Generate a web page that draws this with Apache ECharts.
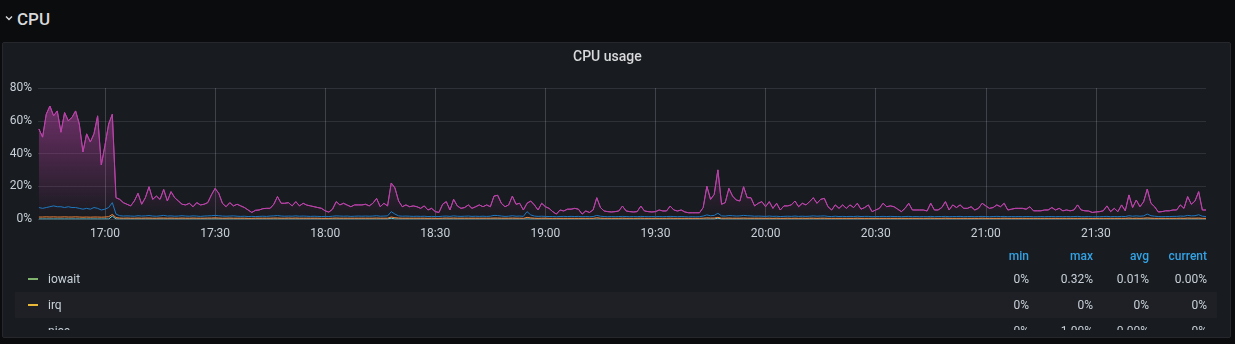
<!DOCTYPE html>
<html>
<head>
<meta charset="utf-8">
<script src="https://cdn.jsdelivr.net/npm/echarts@6.0.0/dist/echarts.min.js"></script>
<style>
  html, body { margin:0; padding:0; width:1235px; height:344px; overflow:hidden; background:#0b0c0e; font-family: Roboto, "Noto Sans", sans-serif; }
  #rowhdr { position:absolute; left:0; top:0; width:300px; height:40px; }
  #rowhdr svg { position:absolute; left:5px; top:15px; }
  #rowhdr span { position:absolute; left:17px; top:9px; font-size:17px; line-height:20px; font-weight:500; color:#d8d9da; }
  #panel { position:absolute; left:2px; top:42px; width:1227px; height:294px; background:#181b1f; border:1px solid #25272c; border-radius:2px; }
  #chart { position:absolute; left:0; top:0; width:1235px; height:250px; }
  #legend { position:absolute; left:15px; top:240px; width:1202px; height:90px; overflow:hidden; font-size:12px; color:#c7d0d9; }
  .lrow { position:absolute; left:0; width:1202px; height:26px; line-height:27px; white-space:nowrap; }
  .lrow.hdr { line-height:26px; }
  .lrow.alt { background:#1e2025; }
  .sw { position:absolute; left:13px; top:12px; width:10px; height:2px; }
  .name { position:absolute; left:33px; top:0; }
  .v { position:absolute; top:0; text-align:right; }
  .hdr .v { color:#33a2e5; font-weight:500; }
</style>
</head>
<body>
<div id="rowhdr">
  <svg width="9" height="7" viewBox="0 0 9 7"><polyline points="1,1.5 4,4.5 7,1.5" fill="none" stroke="#d8d9da" stroke-width="1.4"/></svg>
  <span>CPU</span>
</div>
<div id="panel"></div>
<div id="chart"></div>
<div id="legend"></div>
<script>
// ---------- DATA ----------
// samples every minute starting 16:42
const sampleStart = [16, 42];
const sampleStepMinutes = 1;
const axisStart = [16, 41, 45];
const axisEnd = [22, 0, 0];
const xTickLabels = ['17:00', '17:30', '18:00', '18:30', '19:00', '19:30', '20:00', '20:30', '21:00', '21:30'];

const userPct = [
  55, 50, 64, 69, 63, 66, 53, 65, 60, 62,
  66, 58, 41, 52, 47, 52, 63, 33, 45, 58,
  64, 13, 12, 10, 9, 8, 11, 15.7, 9, 13,
  19.7, 12, 14, 12, 18, 11, 16.7, 13, 11, 9,
  8.6, 9.6, 7.5, 10, 8.6, 9, 10, 14.7, 18.7, 15.7,
  9.6, 7.5, 10, 8, 9, 8, 7, 5.5, 4, 5.3,
  5.5, 6.3, 6.5, 6.5, 9, 13.7, 9.6, 9.6, 10, 8,
  10.6, 8, 9.6, 8.5, 8, 7.5, 7, 6.5, 5, 4.2,
  6, 10.6, 8.6, 9.6, 8.5, 7.5, 8.6, 8.6, 8.6, 9,
  8, 9.6, 12.6, 7.5, 9.6, 8, 22, 19, 11, 7.5,
  8.6, 7.5, 8, 7.5, 6.5, 8, 5.5, 6.5, 4.5, 4,
  9, 10.6, 5.5, 12, 8, 6.5, 7, 8.6, 6.5, 7.5,
  8.6, 7.5, 8.6, 7.5, 14, 14.5, 9.6, 7.5, 8.6, 14,
  9, 9.6, 5.5, 9.6, 11, 8.6, 5.5, 9.6, 7.5, 6.5,
  4.5, 3, 5.5, 4.9, 6, 6, 6.5, 6, 3, 4.9,
  4, 5.5, 13, 7, 4.9, 4.5, 4.3, 4.5, 4.9, 7.9,
  4.9, 4.5, 4.3, 4.5, 7.9, 4.9, 4.5, 4.3, 4.5, 5.5,
  4.9, 4.9, 7.9, 5.5, 4.9, 5.5, 4.3, 3.8, 3.8, 3.8,
  3.8, 7, 20, 12, 15, 30, 9, 10, 18.7, 14,
  11.6, 11, 19.7, 13, 13, 8, 9.6, 10.6, 7.5, 10.6,
  6.5, 9.6, 5.5, 8, 8, 8.6, 11, 7.5, 9.6, 8.6,
  10.6, 13, 9.6, 12, 12.6, 7.5, 5.5, 8.6, 6.5, 8.6,
  6.5, 8.6, 7, 9.6, 6, 7, 8.6, 4.5, 5.5, 6.5,
  9.6, 7.5, 8, 7.5, 6, 4.5, 6.5, 9.6, 5.5, 5.5,
  5.5, 5.5, 4.9, 9.6, 5.5, 5.5, 7, 10.6, 5.5, 8.6,
  7, 8.6, 6.5, 6.5, 7.5, 5.5, 6.5, 9.6, 8, 6.5,
  7, 8.6, 7.5, 9.6, 5.5, 6, 6.5, 6.5, 6.5, 6,
  7.5, 5, 5, 5, 5.5, 5.5, 7, 5.5, 6.5, 5,
  5.5, 5, 5.5, 8.6, 5.5, 5, 4.9, 4, 4.3, 4.5,
  5, 8, 4.5, 6.5, 4.5, 8.6, 5, 14.7, 7, 11.6,
  7.5, 10.5, 18.3, 9.6, 7.5, 4.3, 4.5, 5, 5, 5.5,
  5.5, 8.6, 6.5, 13.7, 9, 11, 16.7, 5.5, 5.5
];

const systemPct = [
  7, 6.5, 7, 7.5, 8, 7.5, 7.5, 7, 7.5, 7,
  7, 6.5, 6, 6.5, 6, 7, 6.5, 5.5, 6, 7,
  10, 3, 2, 1.8, 1.9, 1.8, 1.7, 2, 1.8, 1.9,
  2.1, 1.8, 1.7, 1.9, 2.2, 1.8, 1.9, 1.7, 1.8, 2,
  1.8, 1.7, 1.9, 1.8, 1.6, 1.8, 1.9, 2, 2.2, 2,
  1.8, 1.7, 1.8, 1.9, 1.7, 1.6, 1.7, 1.5, 1.6, 1.5,
  1.6, 1.7, 1.6, 1.8, 1.9, 2.1, 1.8, 1.7, 1.8, 1.7,
  1.9, 1.7, 1.8, 1.7, 1.6, 1.7, 1.6, 1.5, 1.6, 1.5,
  1.7, 1.9, 1.8, 1.7, 1.8, 1.6, 1.7, 1.8, 1.7, 1.8,
  1.7, 1.8, 2, 1.7, 1.8, 1.9, 4.5, 3, 1.9, 1.7,
  1.8, 1.7, 1.6, 1.7, 1.6, 1.7, 1.5, 1.6, 1.5, 1.5,
  1.7, 1.8, 1.6, 1.9, 1.7, 1.6, 1.7, 1.8, 1.6, 1.7,
  1.6, 1.7, 1.6, 1.7, 2.2, 2.1, 1.8, 1.6, 1.7, 2,
  1.7, 1.8, 1.6, 4.5, 2.5, 1.8, 1.6, 1.7, 1.6, 1.5,
  1.5, 1.4, 1.5, 1.6, 1.5, 1.6, 1.5, 1.6, 1.4, 1.5,
  1.4, 1.5, 2.2, 1.7, 1.5, 1.4, 1.5, 1.4, 1.5, 1.6,
  1.5, 1.4, 1.5, 1.4, 1.6, 1.5, 1.4, 1.5, 1.4, 1.5,
  1.4, 1.5, 1.6, 1.5, 1.4, 1.5, 1.4, 1.3, 1.4, 1.3,
  1.4, 1.8, 2.5, 2, 2.2, 3.5, 1.9, 1.8, 2.1, 2,
  1.8, 1.9, 2.2, 2, 1.9, 1.7, 1.8, 1.7, 1.6, 1.8,
  1.6, 1.7, 1.5, 1.6, 1.7, 1.6, 1.8, 1.6, 1.7, 1.6,
  1.7, 1.9, 1.7, 1.8, 1.9, 1.6, 1.5, 1.7, 1.5, 1.6,
  1.5, 1.6, 1.5, 1.7, 1.5, 1.6, 1.6, 1.4, 1.5, 1.5,
  1.6, 1.5, 1.6, 1.5, 1.5, 1.4, 1.5, 1.6, 1.4, 1.5,
  1.4, 1.5, 1.4, 1.6, 1.4, 1.5, 1.5, 1.6, 1.4, 1.5,
  1.5, 1.6, 1.4, 1.5, 1.5, 1.4, 1.5, 1.6, 1.5, 1.4,
  1.5, 1.6, 1.5, 1.6, 1.4, 1.5, 1.4, 1.5, 1.4, 1.5,
  1.5, 1.4, 1.4, 1.5, 1.4, 1.5, 1.5, 1.4, 1.5, 1.4,
  1.5, 1.4, 1.5, 1.6, 1.4, 1.4, 1.5, 1.3, 1.4, 1.4,
  1.5, 1.6, 1.4, 1.5, 1.4, 1.6, 1.5, 2, 1.7, 1.9,
  1.7, 1.9, 3, 2, 1.7, 1.5, 1.4, 1.5, 1.5, 1.6,
  1.6, 1.8, 1.7, 2.2, 1.9, 2, 2.6, 1.7, 1.5
];

const softirqPct = [
  1.2, 1.2, 1.3, 1.2, 1.3, 1.2, 1.2, 1.3, 1.2, 1.2,
  1.3, 1.2, 1.1, 1.2, 1.1, 1.2, 1.2, 1.1, 1.2, 1.4,
  2.8, 0.9, 0.6, 0.5, 0.6, 0.5, 0.5, 0.6, 0.5, 0.6,
  0.6, 0.5, 0.5, 0.6, 0.6, 0.5, 0.6, 0.5, 0.5, 0.6,
  0.5, 0.5, 0.6, 0.5, 0.5, 0.5, 0.6, 0.6, 0.7, 0.6,
  0.5, 0.5, 0.6, 0.5, 0.5, 0.5, 0.5, 0.4, 0.4, 0.5,
  0.5, 0.5, 0.5, 0.5, 0.6, 0.6, 0.5, 0.5, 0.6, 0.5,
  0.6, 0.5, 0.5, 0.5, 0.5, 0.5, 0.5, 0.4, 0.4, 0.4,
  0.5, 0.6, 0.5, 0.5, 0.5, 0.5, 0.5, 0.5, 0.5, 0.5,
  0.5, 0.5, 0.6, 0.5, 0.5, 0.5, 1.2, 0.8, 0.6, 0.5,
  0.5, 0.5, 0.5, 0.5, 0.5, 0.5, 0.4, 0.5, 0.4, 0.4,
  0.5, 0.6, 0.5, 0.6, 0.5, 0.5, 0.5, 0.5, 0.5, 0.5,
  0.5, 0.5, 0.5, 0.5, 0.6, 0.6, 0.5, 0.5, 0.5, 0.6,
  0.5, 0.5, 0.4, 1, 0.7, 0.5, 0.4, 0.5, 0.5, 0.4,
  0.4, 0.4, 0.4, 0.4, 0.4, 0.4, 0.4, 0.4, 0.4, 0.4,
  0.4, 0.4, 0.8, 0.5, 0.4, 0.4, 0.4, 0.4, 0.4, 0.5,
  0.4, 0.4, 0.4, 0.4, 0.5, 0.4, 0.4, 0.4, 0.4, 0.4,
  0.4, 0.4, 0.5, 0.4, 0.4, 0.4, 0.4, 0.4, 0.4, 0.4,
  0.4, 0.5, 0.7, 0.6, 0.6, 1, 0.5, 0.5, 0.6, 0.5,
  0.5, 0.5, 0.6, 0.5, 0.5, 0.5, 0.5, 0.5, 0.4, 0.5,
  0.4, 0.5, 0.4, 0.4, 0.5, 0.4, 0.5, 0.4, 0.5, 0.4,
  0.5, 0.5, 0.4, 0.5, 0.5, 0.4, 0.4, 0.4, 0.4, 0.4,
  0.4, 0.4, 0.4, 0.5, 0.4, 0.4, 0.4, 0.4, 0.4, 0.4,
  0.4, 0.4, 0.4, 0.4, 0.4, 0.4, 0.4, 0.4, 0.4, 0.4,
  0.4, 0.4, 0.4, 0.5, 0.4, 0.4, 0.4, 0.5, 0.4, 0.4,
  0.4, 0.4, 0.4, 0.4, 0.4, 0.4, 0.4, 0.5, 0.4, 0.4,
  0.4, 0.4, 0.4, 0.5, 0.4, 0.4, 0.4, 0.4, 0.4, 0.4,
  0.4, 0.4, 0.4, 0.4, 0.4, 0.4, 0.4, 0.4, 0.4, 0.4,
  0.4, 0.4, 0.4, 0.4, 0.4, 0.4, 0.4, 0.3, 0.4, 0.4,
  0.4, 0.4, 0.4, 0.4, 0.4, 0.4, 0.4, 0.6, 0.4, 0.5,
  0.4, 0.5, 0.7, 0.5, 0.4, 0.4, 0.4, 0.4, 0.4, 0.4,
  0.4, 0.5, 0.4, 0.6, 0.5, 0.5, 0.6, 0.4, 0.4
];

const nicePct = [
  0, 0, 0, 0, 0, 0, 0, 0, 0, 0, 0, 0, 0, 0, 0, 0, 0, 0, 0, 0,
  1.8, 0, 0, 0, 0, 0, 0, 0, 0, 0, 0, 0, 0, 0, 0, 0, 0, 0, 0, 0,
  0, 0, 0, 0, 0, 0, 0, 0, 0, 0, 0, 0, 0, 0, 0, 0, 0, 0, 0, 0,
  0, 0, 0, 0, 0, 0, 0, 0, 0, 0, 0, 0, 0, 0, 0, 0, 0, 0, 0, 0,
  0, 0, 0, 0, 0, 0, 0, 0, 0, 0, 0, 0, 0, 0, 0, 0, 0.5, 0, 0, 0,
  0, 0, 0, 0, 0, 0, 0, 0, 0, 0, 0, 0, 0, 0, 0, 0, 0, 0, 0, 0,
  0, 0, 0, 0, 0, 0, 0, 0, 0, 0, 0, 0, 0, 0, 0, 0, 0, 0, 0, 0,
  0, 0, 0, 0, 0, 0, 0, 0, 0, 0, 0, 0, 0, 0, 0, 0, 0, 0, 0, 0,
  0, 0, 0, 0, 0, 0, 0, 0, 0, 0, 0, 0, 0, 0, 0, 0, 0, 0, 0, 0,
  0, 0, 0, 0, 0, 0.5, 0, 0, 0, 0, 0, 0, 0, 0, 0, 0, 0, 0, 0, 0,
  0, 0, 0, 0, 0, 0, 0, 0, 0, 0, 0, 0, 0, 0, 0, 0, 0, 0, 0, 0,
  0, 0, 0, 0, 0, 0, 0, 0, 0, 0, 0, 0, 0, 0, 0, 0, 0, 0, 0, 0,
  0, 0, 0, 0, 0, 0, 0, 0, 0, 0, 0, 0, 0, 0, 0, 0, 0, 0, 0, 0,
  0, 0, 0, 0, 0, 0, 0, 0, 0, 0, 0, 0, 0, 0, 0, 0, 0, 0, 0, 0,
  0, 0, 0, 0, 0, 0, 0, 0, 0, 0, 0, 0, 0, 0, 0, 0, 0, 0, 0, 0,
  0, 0, 0, 0, 0, 0, 0, 0, 0, 0, 0, 0, 0, 0, 0, 0, 0, 0, 0
];

const yTicks = [0, 20, 40, 60, 80];

const legendNames   = ['iowait', 'irq', 'nice'];
const legendMin     = ['0%', '0%', '0%'];
const legendMax     = ['0.32%', '0%', '1.00%'];
const legendAvg     = ['0.01%', '0%', '0.00%'];
const legendCurrent = ['0.00%', '0%', '0%'];
const legendHeaders = ['min', 'max', 'avg', 'current'];

// ---------- STYLE ----------
const C = {
  iowait: '#7EB26D', irq: '#EAB839', nice: '#6ED0E0', softirq: '#EF843C',
  system: '#1F78C1', user: '#BA43A9'
};
const legendSwatch = [C.iowait, C.irq, C.nice];
const colRight = [188, 124, 68, 10];

// ---------- BUILD ----------
const Y = 2021, M = 5, D = 14;
const base = new Date(Y, M, D, sampleStart[0], sampleStart[1], 0).getTime();
const stepMs = sampleStepMinutes * 60000;
const pairs = arr => arr.map((v, i) => [base + i * stepMs, v]);
const xMin = new Date(Y, M, D, axisStart[0], axisStart[1], axisStart[2]).getTime();
const xMax = new Date(Y, M, D, axisEnd[0], axisEnd[1], axisEnd[2]).getTime();
const tickTimes = xTickLabels.map(s => { const p = s.split(':'); return new Date(Y, M, D, +p[0], +p[1], 0).getTime(); });
const pad = n => (n < 10 ? '0' : '') + n;
const fmt = v => { const d = new Date(v); return pad(d.getHours()) + ':' + pad(d.getMinutes()); };

const chart = echarts.init(document.getElementById('chart'), null, { renderer: 'canvas' });
const lineSeries = (name, data, color, extra) => Object.assign({
  name, type: 'line', data: pairs(data), showSymbol: false, symbol: 'none',
  lineStyle: { width: 1, color }, itemStyle: { color }, z: 2, silent: true
}, extra || {});

chart.setOption({
  animation: false,
  backgroundColor: 'transparent',
  textStyle: { fontFamily: 'Roboto' },
  title: {
    text: 'CPU usage', left: 573, top: 50, padding: 0,
    textStyle: { color: '#d8d9da', fontSize: 14, fontWeight: 500, fontFamily: 'Roboto' }
  },
  grid: { left: 38, top: 88, width: 1168, height: 131 },
  xAxis: {
    type: 'value', min: xMin, max: xMax, scale: true,
    axisLine: { show: false },
    axisTick: { show: false, customValues: tickTimes },
    axisLabel: {
      customValues: tickTimes,
      color: '#c7d0d9', fontSize: 12, margin: 9, fontFamily: 'Roboto',
      formatter: fmt
    },
    splitLine: { show: true, lineStyle: { color: 'rgba(204,204,220,0.22)', width: 1 } }
  },
  yAxis: {
    type: 'value', min: yTicks[0], max: yTicks[yTicks.length - 1], interval: yTicks[1] - yTicks[0],
    axisLine: { show: false }, axisTick: { show: false },
    axisLabel: { formatter: '{value}%', color: '#c7d0d9', fontSize: 12, margin: 6, fontFamily: 'Roboto' },
    splitLine: { lineStyle: { color: 'rgba(204,204,220,0.13)', width: 1 } }
  },
  series: [
    lineSeries('nice', nicePct, C.nice),
    lineSeries('softirq', softirqPct, C.softirq),
    lineSeries('user', userPct, C.user, {
      areaStyle: { color: { type: 'linear', x: 0, y: 0, x2: 0, y2: 1, colorStops: [
        { offset: 0, color: 'rgba(186,67,169,0.76)' },
        { offset: 1, color: 'rgba(186,67,169,0.0)' } ] } }
    }),
    lineSeries('system', systemPct, C.system),
    lineSeries('user-line', userPct, C.user)
  ]
});

// legend table (HTML)
const lg = document.getElementById('legend');
function addRow(top, cls, swatch, name, vals) {
  const r = document.createElement('div');
  r.className = 'lrow ' + cls;
  r.style.top = top + 'px';
  if (swatch) { const s = document.createElement('div'); s.className = 'sw'; s.style.background = swatch; r.appendChild(s); }
  if (name) { const n = document.createElement('span'); n.className = 'name'; n.textContent = name; r.appendChild(n); }
  vals.forEach((v, k) => { const e = document.createElement('span'); e.className = 'v'; e.style.right = colRight[k] + 'px'; e.textContent = v; r.appendChild(e); });
  lg.appendChild(r);
}
addRow(3, 'hdr', null, null, legendHeaders);
legendNames.forEach((nm, k) => {
  addRow(26 + k * 26, k % 2 === 1 ? 'alt' : '', legendSwatch[k], nm,
    [legendMin[k], legendMax[k], legendAvg[k], legendCurrent[k]]);
});
</script>
</body>
</html>
